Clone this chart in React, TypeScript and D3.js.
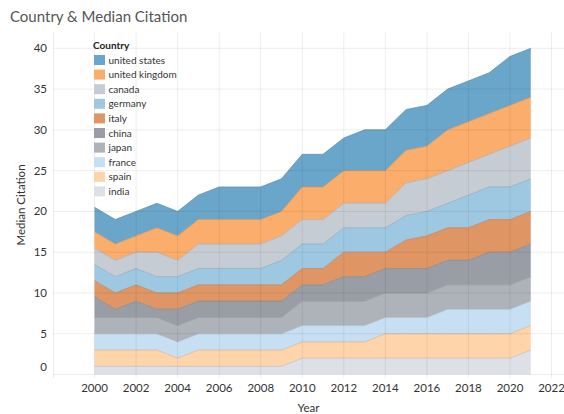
import React from 'react';
import * as d3 from 'd3';

// years on the x axis
const years = [2000, 2001, 2002, 2003, 2004, 2005, 2006, 2007, 2008, 2009, 2010,
  2011, 2012, 2013, 2014, 2015, 2016, 2017, 2018, 2019, 2020, 2021];

// median citation per country (stacked bottom -> top)
const india = [1, 1, 1, 1, 1, 1, 1, 1, 1, 1, 2, 2, 2, 2, 2, 2, 2, 2, 2, 2, 2, 3];
const spain = [2, 2, 2, 2, 1, 2, 2, 2, 2, 2, 2, 2, 2, 2, 3, 3, 3, 3, 3, 3, 3, 3];
const france = [2, 2, 2, 2, 2, 2, 2, 2, 2, 2, 2, 2, 2, 2, 2, 2, 2, 3, 3, 3, 3, 3];
const japan = [2, 2, 2, 2, 2, 2, 2, 2, 2, 2, 3, 3, 3, 3, 3, 3, 3, 3, 3, 3, 3, 3];
const china = [2.5, 1, 2, 1, 2, 2, 2, 2, 2, 2, 2, 2, 3, 3, 3, 3, 3, 3, 3, 4, 4, 4];
const italy = [2, 2, 2, 2, 2, 2, 2, 2, 2, 2, 2, 2, 3, 3, 2, 3.5, 4, 4, 4, 4, 4, 4];
const germany = [2, 2, 2, 2, 2, 2, 2, 2, 2, 3, 3, 3, 3, 3, 3, 3, 3, 3, 4, 4, 4, 4];
const canada = [2, 2, 2, 3, 2, 3, 3, 3, 3, 3, 3, 3, 3, 3, 3, 4, 4, 4, 4, 4, 5, 5];
const unitedKingdom = [2, 2, 2, 3, 3, 3, 3, 3, 3, 3, 4, 4, 4, 4, 4, 4, 4, 5, 5, 5, 5, 5];
const unitedStates = [3, 3, 3, 3, 3, 3, 4, 4, 4, 4, 4, 4, 4, 5, 5, 5, 5, 5, 5, 5, 6, 6];

const countries = ['india', 'spain', 'france', 'japan', 'china', 'italy',
  'germany', 'canada', 'united kingdom', 'united states'];
const seriesValues = [india, spain, france, japan, china, italy,
  germany, canada, unitedKingdom, unitedStates];
const palette = ['#dde0e7', '#fed4ab', '#c7dff2', '#aeb2b9', '#999da5', '#df9564',
  '#9ec8e1', '#c6ccd3', '#fbad6b', '#6aa6ca'];

const yTicks = [0, 5, 10, 15, 20, 25, 30, 35, 40];
const xTicks = [2000, 2002, 2004, 2006, 2008, 2010, 2012, 2014, 2016, 2018, 2020, 2022];

const FONT = 'Lato, "Open Sans", sans-serif';

export default function App() {
  const width = 564;
  const height = 414;
  const pane = { left: 53, right: 564, top: 32, bottom: 378 };

  const x = d3.scaleLinear().domain([1998, 2022.6]).range([pane.left, pane.right]);
  const y = d3.scaleLinear().domain([0, 42]).range([374.5, pane.top]);
  const color = d3.scaleOrdinal<string, string>().domain(countries).range(palette);

  // table for d3.stack
  const table = years.map((yr, i) => {
    const row: any = { year: yr };
    countries.forEach((c, k) => { row[c] = seriesValues[k][i]; });
    return row;
  });
  const stacked = d3.stack<any>().keys(countries)(table);

  const area = d3.area<any>()
    .x(d => x(d.data.year))
    .y0(d => y(d[0]))
    .y1(d => y(d[1]));
  const topLine = d3.line<any>()
    .x(d => x(d.data.year))
    .y(d => y(d[1]));

  const legendOrder = countries.slice().reverse();

  return (
    <div style={{ position: 'fixed', left: 0, top: 0 }}>
      <svg width={width} height={height} style={{ display: 'block', background: '#fff' }}>
        <text x={10} y={22} fontFamily={FONT} fontSize={15} fill="#555">
          Country &amp; Median Citation
        </text>

        {stacked.map(layer => (
          <path key={layer.key} d={area(layer) || ''} fill={color(layer.key)} />
        ))}
        {stacked.map(layer => (
          <path key={'l' + layer.key} d={topLine(layer) || ''} fill="none"
            stroke={d3.color(color(layer.key))!.darker(0.45).formatHex()}
            strokeWidth={0.9} strokeOpacity={0.8} />
        ))}

        {/* gridlines */}
        <g stroke="#000" strokeOpacity={0.07} strokeWidth={1}>
          {yTicks.map(t => (
            <line key={'gy' + t} x1={pane.left} x2={pane.right} y1={y(t)} y2={y(t)} />
          ))}
          {xTicks.map(t => (
            <line key={'gx' + t} x1={x(t)} x2={x(t)} y1={pane.top} y2={pane.bottom} />
          ))}
          <line x1={pane.left + 0.5} x2={pane.left + 0.5} y1={pane.top} y2={pane.bottom} />
        </g>

        {/* y axis */}
        {yTicks.map(t => (
          <text key={'ty' + t} x={47} y={t === 0 ? 367 : y(t)} dy="0.35em" textAnchor="end"
            fontFamily={FONT} fontSize={11.5} fill="#333">{t}</text>
        ))}
        <text transform={`translate(21,${(pane.top + pane.bottom) / 2}) rotate(-90)`}
          textAnchor="middle" dy="0.35em" fontFamily={FONT} fontSize={11.5} fill="#333">
          Median Citation
        </text>

        {/* x axis */}
        {xTicks.map(t => (
          <text key={'tx' + t} x={x(t)} y={388} dy="0.35em" textAnchor="middle"
            fontFamily={FONT} fontSize={11.5} fill="#333">{t}</text>
        ))}
        <text x={(pane.left + pane.right) / 2} y={408} dy="0.35em" textAnchor="middle"
          fontFamily={FONT} fontSize={11.5} fill="#333">Year</text>

        {/* legend */}
        <text x={93} y={45.5} dy="0.35em" fontFamily={FONT} fontSize={10} fontWeight="bold" fill="#222">
          Country
        </text>
        {legendOrder.map((c, i) => (
          <g key={'lg' + c} transform={`translate(94,${60 + i * 14.6})`}>
            <rect x={0} y={-5} width={11} height={10} fill={color(c)} />
            <text x={14.5} y={0} dy="0.35em" fontFamily={FONT} fontSize={10} fill="#333">{c}</text>
          </g>
        ))}
      </svg>
    </div>
  );
}
